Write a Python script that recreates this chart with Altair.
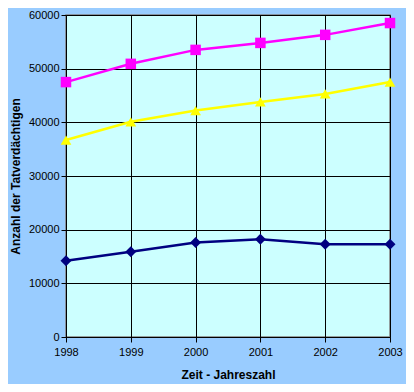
import altair as alt
import pandas as pd

years = [1998, 1999, 2000, 2001, 2002, 2003]
reihe1 = [47500, 50900, 53500, 54800, 56300, 58500]
reihe2 = [36700, 40100, 42200, 43800, 45300, 47500]
reihe3 = [14200, 15900, 17600, 18200, 17300, 17300]
series = ["Reihe1", "Reihe2", "Reihe3"]
colors = ["#FF00FF", "#FFFF00", "#000080"]
shapes = ["square", "triangle-up", "diamond"]
sizes = [110, 120, 80]
y_ticks = [0, 10000, 20000, 30000, 40000, 50000, 60000]

rows = []
for name, vals in zip(series, [reihe1, reihe2, reihe3]):
    for yr, v in zip(years, vals):
        rows.append({"Jahr": yr, "Wert": v, "Reihe": name})
df = pd.DataFrame(rows)

font = "Liberation Sans"

x = alt.X("Jahr:Q", title="Zeit - Jahreszahl",
          scale=alt.Scale(domain=[1998, 2003], nice=False, zero=False),
          axis=alt.Axis(values=years, format="d", grid=True, gridColor="black",
                        gridWidth=1, domainColor="black", tickColor="black",
                        tickSize=5, labelPadding=4, labelFontSize=11,
                        titlePadding=12, labelOverlap=False, labelFlush=False))
y = alt.Y("Wert:Q", title="Anzahl der Tatverdächtigen",
          scale=alt.Scale(domain=[0, 60000], nice=False),
          axis=alt.Axis(values=y_ticks, format="d", grid=True, gridColor="black",
                        gridWidth=1, domainColor="black", tickColor="black",
                        tickSize=5, labelPadding=2, labelFontSize=11,
                        titlePadding=6, labelFlush=False))
color = alt.Color("Reihe:N", scale=alt.Scale(domain=series, range=colors), legend=None)

lines = alt.Chart(df).mark_line(strokeWidth=2.5).encode(x=x, y=y, color=color, detail="Reihe:N")
points = alt.Chart(df).mark_point(filled=True, opacity=1).encode(
    x=x, y=y, color=color,
    shape=alt.Shape("Reihe:N", scale=alt.Scale(domain=series, range=shapes), legend=None),
    size=alt.Size("Reihe:N", scale=alt.Scale(domain=series, range=sizes), legend=None),
)

chart = (
    alt.layer(lines, points)
    .properties(width=324, height=322, background="#99CCFF",
                padding={"left": 58, "top": 7, "right": 16, "bottom": 47},
                autosize=alt.AutoSizeParams(type="none"))
    .configure_view(fill="#CCFFFF", stroke="#808080", strokeWidth=1.5)
    .configure_axis(labelFont=font, titleFont=font, labelColor="black",
                    titleColor="black", titleFontSize=12, titleFontWeight="bold")
)

chart.save("out.html", embed_options={"renderer": "svg", "actions": False})
